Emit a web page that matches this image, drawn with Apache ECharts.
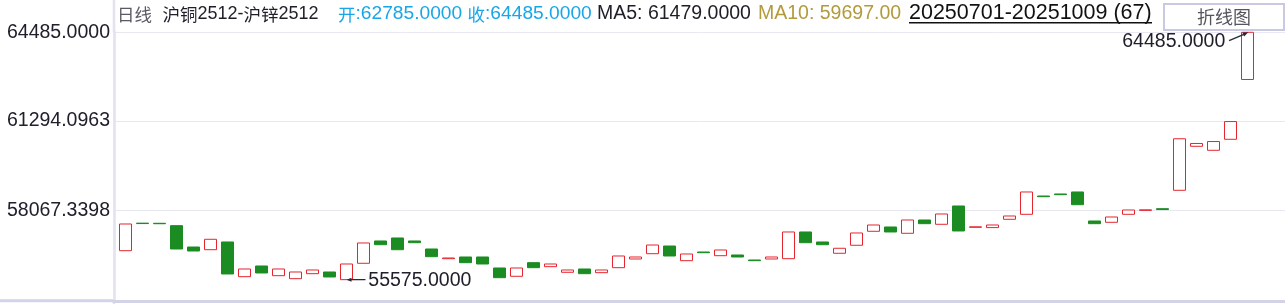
<!DOCTYPE html>
<html>
<head>
<meta charset="utf-8">
<script src="https://cdn.jsdelivr.net/npm/echarts@6/dist/echarts.min.js"></script>
<style>
html,body{margin:0;padding:0;background:#fff;}
#chart{width:1285px;height:304px;}
</style>
</head>
<body>
<div id="chart"></div>
<script>
// ---- data ----
const julDays = [1,2,3,4,7,8,9,10,11,14,15,16,17,18,21,22,23,24,25,28,29,30,31];
const augDays = [1,4,5,6,7,8,11,12,13,14,15,18,19,20,21,22,25,26,27,28,29];
const sepDays = [1,2,3,4,5,8,9,10,11,12,15,16,17,18,19,22,23,24,25,26,29,30];
const octDays = [9];
const openValues = [
  56618,57610,57605,57519,56751,56654,56932,55682,56067,55718,
  55610,55790,55851,55575,56164,56968,57076,56968,56679,56330,
  56391,56391,55995,55696,56186,56042,55840,55959,55826,56006,
  56319,56510,56787,56258,56571,56438,56463,56283,56319,56330,
  57292,56932,56525,56813,57317,57472,57245,57724,57569,58228,
  57460,57450,57749,57929,58588,58661,58733,57688,57641,57929,
  58070,58131,58794,60379,60235,60631,62785
];
const closeValues = [
  57580,57595,57590,56679,56607,57029,55779,55959,55815,55959,
  55851,55923,55671,56139,56896,56834,56654,56906,56402,56355,
  56186,56139,55646,55995,56006,56139,55923,55790,55923,56427,
  56391,56823,56427,56499,56546,56643,56391,56258,56391,57292,
  56906,56834,56705,57256,57544,57292,57724,57591,57940,57328,
  57478,57544,57868,58733,58563,58636,58275,57591,57832,58084,
  58090,58100,60650,60480,60550,61270,64485
];
const yTickValues = [64485, 61294.0963, 58067.3398];
const yMin = 54813;
const yMax = 64485;
const titleParts = {
  period: '日线',
  pairA: '沪铜', pairACode: '2512-',
  pairB: '沪锌', pairBCode: '2512',
  openLabel: '开', openValue: ':62785.0000 ',
  closeLabel: '收', closeValue: ':64485.0000',
  ma5: 'MA5: 61479.0000',
  ma10: 'MA10: 59697.00',
  range: '20250701-20251009 (67)',
  button: '折线图'
};

// ---- build ----
function pad(n){return n<10?'0'+n:''+n;}
const categories = []
  .concat(julDays.map(d=>'202507'+pad(d)))
  .concat(augDays.map(d=>'202508'+pad(d)))
  .concat(sepDays.map(d=>'202509'+pad(d)))
  .concat(octDays.map(d=>'202510'+pad(d)));
const candleData = openValues.map((o,i)=>{
  const c = closeValues[i];
  return [o, c, Math.min(o,c), Math.max(o,c)];
});

const FONT_LAT = '"Liberation Sans", Arial, "Noto Sans CJK SC", sans-serif';
const FONT_CJK = '"Noto Sans CJK SC", "Liberation Sans", sans-serif';
const FS = 19.5;
const arrowPath = 'path://M0,2 L5,0 L5,1.4 L19,1.4 L19,2.6 L5,2.6 L5,4 Z';

const chart = echarts.init(document.getElementById('chart'), null, {renderer:'canvas'});
const GRID_TOP = 32.3, GRID_BOTTOM = 3.2;

const option = {
  animation: false,
  backgroundColor: '#ffffff',
  grid: [
    {left: 114, right: 0, top: GRID_TOP, bottom: GRID_BOTTOM, containLabel: false},
    {left: 116.8, right: 29.2, top: GRID_TOP, bottom: GRID_BOTTOM, containLabel: false}
  ],
  xAxis: [
    {gridIndex: 0, type: 'value', min: 0, max: 1,
     axisLine: {show: true, onZero: false, lineStyle: {color: '#d2d3e6', width: 3}},
     axisTick: {show: false}, axisLabel: {show: false}, splitLine: {show: false}},
    {gridIndex: 1, type: 'category', data: categories, boundaryGap: true,
     axisLine: {show: false}, axisTick: {show: false}, axisLabel: {show: false}, splitLine: {show: false}}
  ],
  yAxis: [
    {gridIndex: 0, type: 'value', min: yMin, max: yMax, scale: true,
     axisLine: {show: true, lineStyle: {color: '#e2e2f0', width: 2.6}},
     axisTick: {show: false, customValues: yTickValues},
     axisLabel: {show: true, customValues: yTickValues, margin: 4,
       formatter: v => Number(v).toFixed(4),
       color: '#20202c', fontSize: FS, fontFamily: FONT_LAT},
     splitLine: {show: true, lineStyle: {color: '#e8e8f2', width: 1}}},
    {gridIndex: 1, type: 'value', min: yMin, max: yMax, scale: true, show: false,
     splitLine: {show: false}}
  ],
  series: [{
    type: 'candlestick',
    xAxisIndex: 1, yAxisIndex: 1,
    data: candleData,
    barWidth: 12,
    itemStyle: {
      color: '#ffffff', color0: '#1a8c22',
      borderColor: '#e5262f', borderColor0: '#1a8c22',
      borderWidth: 1
    },
    markPoint: {
      silent: true,
      animation: false,
      data: [
        {type: 'max', valueDim: 'highest', symbol: arrowPath, symbolSize: [21, 4.5],
         symbolRotate: 203.5, symbolOffset: [-8.6, 4.2], symbolKeepAspect: false,
         itemStyle: {color: '#2a2a3c'}, label: {show: false}},
        {type: 'max', valueDim: 'highest', symbol: 'circle', symbolSize: 0,
         itemStyle: {color: 'rgba(0,0,0,0)'},
         label: {show: true, position: 'inside', align: 'right', verticalAlign: 'middle',
           offset: [-22, 9.3], color: '#20202c', fontSize: FS, fontFamily: FONT_LAT,
           formatter: p => Number(p.value).toFixed(4)}},
        {type: 'min', valueDim: 'lowest', symbol: arrowPath, symbolSize: [19, 4],
         symbolOffset: [9.7, 0], symbolKeepAspect: false,
         itemStyle: {color: '#2a2a3c'}, label: {show: false}},
        {type: 'min', valueDim: 'lowest', symbol: 'circle', symbolSize: 0,
         itemStyle: {color: 'rgba(0,0,0,0)'},
         label: {show: true, position: 'inside', align: 'left', verticalAlign: 'middle',
           offset: [22, 0.5], color: '#20202c', fontSize: FS, fontFamily: FONT_LAT,
           formatter: p => Number(p.value).toFixed(4)}}
      ]
    }
  }],
  graphic: [
    // axis frame extensions
    {type: 'line', shape: {x1: 114, y1: 0, x2: 114, y2: GRID_TOP}, style: {stroke: '#e2e2f0', lineWidth: 2.6}, silent: true},
    {type: 'line', shape: {x1: 114, y1: 300.8, x2: 114, y2: 304}, style: {stroke: '#e2e2f0', lineWidth: 2.6}, silent: true},
    {type: 'line', shape: {x1: 0, y1: 300.8, x2: 114, y2: 300.8}, style: {stroke: '#d2d3e6', lineWidth: 3}, silent: true},
    // title line
    {type: 'text', x: 117, y: 14, silent: true,
     style: {text: titleParts.period, fill: '#5a5a66', font: '17.5px ' + FONT_CJK, verticalAlign: 'middle'}},
    {type: 'text', x: 162.5, y: 14, silent: true,
     style: {
       text: '{c|' + titleParts.pairA + '}{l|' + titleParts.pairACode + '}{c|' + titleParts.pairB + '}{l|' + titleParts.pairBCode + '}',
       verticalAlign: 'middle',
       rich: {
         c: {fill: '#1e1e28', font: '17.5px ' + FONT_CJK},
         l: {fill: '#1e1e28', font: '18px ' + FONT_LAT}
       }
     }},
    {type: 'text', x: 338, y: 14, silent: true,
     style: {
       text: '{c|' + titleParts.openLabel + '}{l|' + titleParts.openValue + '}{c|' + titleParts.closeLabel + '}{l|' + titleParts.closeValue + '}',
       verticalAlign: 'middle',
       rich: {
         c: {fill: '#18a6e6', font: '17.5px ' + FONT_CJK},
         l: {fill: '#18a6e6', font: '19.2px ' + FONT_LAT}
       }
     }},
    {type: 'text', x: 597, y: 14, silent: true,
     style: {text: titleParts.ma5, fill: '#1e1e28', font: FS + 'px ' + FONT_LAT, verticalAlign: 'middle'}},
    {type: 'text', x: 758, y: 14, silent: true,
     style: {text: titleParts.ma10, fill: '#b39a3c', font: FS + 'px ' + FONT_LAT, verticalAlign: 'middle'}},
    {type: 'text', x: 909, y: 13, silent: true,
     style: {text: titleParts.range, fill: '#111111', font: '21.5px ' + FONT_LAT, verticalAlign: 'middle'}},
    {type: 'line', shape: {x1: 909, y1: 22.8, x2: 1152, y2: 22.8}, style: {stroke: '#111111', lineWidth: 1.4}, silent: true},
    // button
    {type: 'rect', shape: {x: 1164, y: 4, width: 120, height: 26}, z: 10,
     style: {fill: '#ffffff', stroke: '#c9cae2', lineWidth: 2}, silent: true},
    {type: 'text', x: 1224, y: 17, z: 11, silent: true,
     style: {text: titleParts.button, fill: '#55555f', font: '18px ' + FONT_CJK, align: 'center', verticalAlign: 'middle'}}
  ]
};
chart.setOption(option);
</script>
</body>
</html>
